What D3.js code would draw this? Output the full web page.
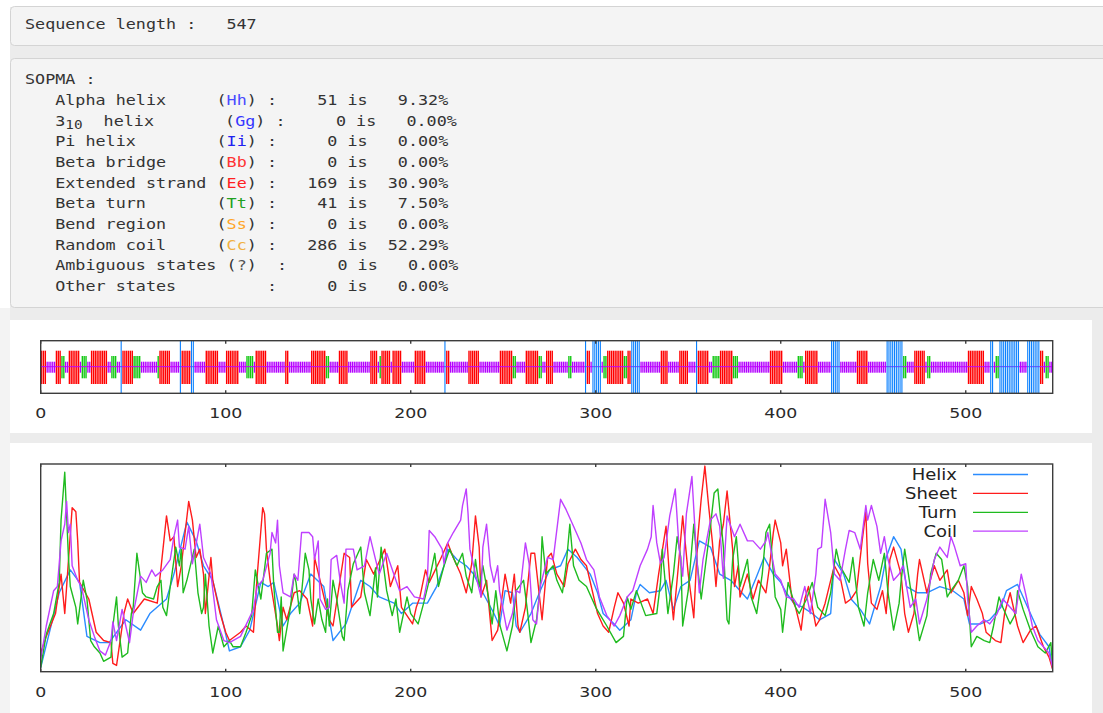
<!DOCTYPE html>
<html>
<head>
<meta charset="utf-8">
<script src="https://cdn.jsdelivr.net/npm/d3@7"></script>
<style>
html, body { margin: 0; padding: 0; background: #ececec; }
svg { display: block; }
</style>
</head>
<body>
<div id="chart"></div>
<script>
// ---- data ----
const seqLength = 547;

const sopmaRows = [
    {label: "Alpha helix", code: "Hh", count: 51, pct: "9.32%", color: "#4a4aff"},
    {label: "3", sub: "10", rest: "helix", code: "Gg", count: 0, pct: "0.00%", color: "#3636ff"},
    {label: "Pi helix", code: "Ii", count: 0, pct: "0.00%", color: "#2020f0"},
    {label: "Beta bridge", code: "Bb", count: 0, pct: "0.00%", color: "#ff3434"},
    {label: "Extended strand", code: "Ee", count: 169, pct: "30.90%", color: "#ff2020"},
    {label: "Beta turn", code: "Tt", count: 41, pct: "7.50%", color: "#20a020"},
    {label: "Bend region", code: "Ss", count: 0, pct: "0.00%", color: "#ffa526"},
    {label: "Random coil", code: "Cc", count: 286, pct: "52.29%", color: "#f0b040"},
    {label: "Ambiguous states", code: "?", count: 0, pct: "0.00%", color: "#555"},
    {label: "Other states", code: "", count: 0, pct: "0.00%", color: "#555"}
];

// predicted states, residue ranges (inclusive); everything else is random coil
const strandRuns = [[1,3],[9,11],[16,21],[28,36],[45,50],[65,70],[77,81],[90,96],[101,107],[117,122],
    [133,134],[147,154],[162,166],[179,182],[185,189],[191,195],[203,208],[220,221],[232,237],[249,255],
    [263,269],[274,277],[296,297],[307,315],[318,319],[336,339],[346,350],[356,361],[368,374],[395,401],
    [414,420],[442,447],[473,478],[502,510],[541,542]];
const turnRuns = [[12,13],[23,25],[39,41],[51,54],[64,64],[112,115],[155,156],[184,184],[256,257],[270,271],
    [286,287],[305,306],[316,317],[364,367],[375,377],[410,412],[467,468],[480,481],[517,518],[544,545]];
const helixRuns = [[44,44],[76,76],[82,83],[219,219],[295,295],[299,303],[320,324],[355,355],[428,432],
    [458,466],[514,515],[519,529],[534,540]];

const xTicks = [0, 100, 200, 300, 400, 500];

// score curves: [residue, score]
const helixScore = [[0,0.02],[10,0.38],[16,0.49],[21,0.43],[25,0.17],[32,0.14],[37,0.14],[46,0.25],[54,0.20],[59,0.28],
    [68,0.35],[72,0.47],[79,0.72],[84,0.63],[88,0.51],[93,0.44],[99,0.22],[102,0.10],[108,0.12],[113,0.20],
    [119,0.43],[123,0.41],[126,0.43],[131,0.22],[135,0.28],[140,0.33],[146,0.47],[153,0.41],[158,0.15],[165,0.23],
    [173,0.44],[178,0.41],[183,0.36],[191,0.33],[195,0.28],[201,0.33],[209,0.33],[214,0.41],[218,0.51],[220,0.59],
    [225,0.54],[230,0.51],[234,0.47],[239,0.38],[245,0.28],[248,0.22],[251,0.39],[255,0.38],[257,0.22],[259,0.19],
    [265,0.28],[270,0.39],[275,0.49],[281,0.51],[285,0.59],[290,0.55],[297,0.47],[301,0.38],[304,0.28],[310,0.23],
    [313,0.20],[319,0.25],[322,0.38],[324,0.42],[329,0.38],[335,0.39],[338,0.44],[342,0.30],[346,0.41],[351,0.44],
    [356,0.63],[362,0.60],[367,0.47],[373,0.44],[378,0.39],[382,0.35],[387,0.46],[391,0.55],[396,0.47],[400,0.43],
    [403,0.38],[407,0.33],[412,0.31],[417,0.28],[421,0.25],[427,0.28],[429,0.54],[434,0.47],[438,0.35],[443,0.30],
    [448,0.23],[454,0.41],[457,0.55],[461,0.65],[465,0.59],[468,0.41],[474,0.38],[479,0.38],[486,0.41],[493,0.39],
    [499,0.35],[502,0.23],[508,0.23],[513,0.25],[519,0.31],[522,0.39],[528,0.42],[531,0.36],[536,0.26],[540,0.18],
    [545,0.12],[547,0.01]];

const sheetScore = [[0,0.09],[3,0.17],[8,0.28],[11,0.47],[13,0.28],[17,0.79],[19,0.77],[20,0.63],[21,0.43],[26,0.35],
    [30,0.19],[34,0.15],[38,0.14],[39,0.04],[41,0.03],[45,0.28],[47,0.35],[50,0.28],[56,0.35],[63,0.33],
    [68,0.75],[70,0.63],[72,0.65],[74,0.41],[76,0.51],[80,0.82],[82,0.73],[84,0.55],[86,0.59],[88,0.47],
    [89,0.28],[92,0.55],[93,0.44],[97,0.28],[100,0.19],[102,0.15],[108,0.19],[111,0.22],[115,0.19],[117,0.46],
    [120,0.79],[121,0.76],[122,0.59],[124,0.44],[128,0.22],[129,0.15],[131,0.31],[133,0.25],[137,0.38],[140,0.39],
    [144,0.35],[147,0.22],[148,0.55],[151,0.44],[156,0.25],[158,0.22],[164,0.57],[167,0.55],[168,0.31],[173,0.36],
    [176,0.54],[180,0.47],[186,0.59],[189,0.41],[193,0.51],[195,0.31],[198,0.27],[201,0.23],[203,0.31],[205,0.36],
    [208,0.49],[210,0.43],[216,0.54],[220,0.62],[223,0.55],[227,0.47],[230,0.38],[233,0.52],[235,0.75],[237,0.60],
    [238,0.36],[241,0.44],[244,0.15],[247,0.20],[251,0.47],[254,0.33],[256,0.47],[258,0.22],[259,0.19],[262,0.31],
    [265,0.57],[267,0.57],[271,0.25],[274,0.55],[276,0.57],[279,0.47],[283,0.41],[285,0.52],[289,0.59],[292,0.54],
    [295,0.51],[301,0.28],[304,0.22],[307,0.19],[310,0.31],[312,0.38],[315,0.33],[318,0.22],[319,0.35],[323,0.33],
    [328,0.35],[331,0.28],[334,0.47],[338,0.70],[340,0.44],[342,0.25],[345,0.54],[347,0.75],[350,0.47],[353,0.26],
    [355,0.63],[357,0.83],[359,0.99],[361,0.80],[363,0.63],[365,0.41],[367,0.63],[369,0.71],[371,0.87],[374,0.59],
    [375,0.41],[377,0.51],[378,0.36],[382,0.47],[385,0.35],[388,0.44],[392,0.38],[394,0.51],[396,0.67],[397,0.73],
    [400,0.62],[401,0.51],[403,0.59],[406,0.35],[408,0.31],[411,0.20],[413,0.35],[415,0.41],[419,0.22],[421,0.25],
    [424,0.33],[427,0.44],[429,0.51],[432,0.46],[435,0.33],[438,0.35],[441,0.39],[444,0.63],[446,0.77],[447,0.52],
    [449,0.33],[452,0.30],[455,0.39],[457,0.28],[459,0.54],[461,0.60],[465,0.47],[467,0.28],[469,0.19],[472,0.28],
    [474,0.47],[475,0.54],[479,0.38],[483,0.51],[486,0.44],[490,0.49],[492,0.38],[496,0.44],[499,0.38],[501,0.27],
    [503,0.41],[506,0.35],[509,0.28],[511,0.19],[516,0.15],[519,0.14],[521,0.28],[524,0.38],[528,0.22],[531,0.14],
    [535,0.20],[538,0.22],[542,0.12],[545,0.07],[547,0.01]];

const turnScore = [[0,0.02],[3,0.18],[7,0.28],[10,0.43],[11,0.73],[13,0.96],[15,0.55],[16,0.41],[19,0.31],[20,0.23],
    [23,0.44],[25,0.35],[27,0.15],[29,0.12],[32,0.09],[34,0.05],[38,0.07],[39,0.22],[41,0.36],[42,0.22],
    [44,0.07],[47,0.09],[49,0.28],[50,0.31],[52,0.57],[55,0.38],[57,0.36],[61,0.35],[63,0.41],[65,0.44],
    [66,0.31],[68,0.27],[70,0.41],[73,0.60],[75,0.51],[76,0.59],[77,0.38],[79,0.44],[83,0.59],[85,0.38],
    [87,0.28],[88,0.31],[89,0.47],[91,0.22],[93,0.09],[96,0.22],[99,0.12],[102,0.15],[104,0.12],[108,0.12],
    [111,0.19],[114,0.27],[116,0.49],[119,0.35],[122,0.57],[125,0.59],[126,0.41],[128,0.19],[129,0.19],[130,0.36],
    [131,0.10],[135,0.31],[137,0.47],[138,0.43],[140,0.28],[143,0.57],[145,0.49],[146,0.35],[148,0.23],[150,0.35],
    [152,0.25],[154,0.19],[155,0.35],[156,0.22],[158,0.44],[160,0.35],[163,0.17],[164,0.15],[166,0.39],[169,0.52],
    [173,0.60],[175,0.38],[178,0.27],[181,0.50],[182,0.36],[184,0.60],[187,0.39],[190,0.27],[192,0.35],[194,0.19],
    [198,0.36],[200,0.28],[204,0.23],[207,0.33],[210,0.44],[213,0.57],[215,0.41],[218,0.51],[221,0.59],[225,0.51],
    [228,0.57],[230,0.46],[233,0.38],[235,0.54],[237,0.41],[239,0.51],[242,0.36],[244,0.23],[246,0.39],[248,0.23],
    [252,0.10],[255,0.22],[257,0.39],[261,0.44],[263,0.30],[265,0.14],[268,0.25],[270,0.41],[271,0.65],[273,0.47],
    [277,0.51],[279,0.44],[282,0.38],[284,0.51],[286,0.71],[288,0.51],[291,0.44],[295,0.41],[300,0.31],[302,0.28],
    [306,0.22],[311,0.14],[315,0.17],[317,0.36],[319,0.30],[322,0.39],[327,0.27],[333,0.28],[335,0.43],[336,0.59],
    [339,0.28],[342,0.47],[344,0.65],[346,0.55],[347,0.22],[350,0.39],[353,0.71],[355,0.51],[357,0.35],[362,0.70],
    [364,0.86],[366,0.88],[369,0.60],[371,0.25],[372,0.23],[374,0.54],[376,0.65],[378,0.41],[382,0.54],[384,0.36],
    [387,0.28],[390,0.47],[392,0.67],[394,0.71],[397,0.36],[400,0.30],[401,0.19],[404,0.43],[408,0.31],[410,0.28],
    [414,0.35],[417,0.43],[420,0.31],[424,0.27],[427,0.38],[430,0.59],[432,0.51],[437,0.43],[439,0.55],[442,0.31],
    [445,0.22],[447,0.38],[450,0.54],[453,0.44],[456,0.57],[458,0.38],[461,0.20],[464,0.33],[465,0.43],[467,0.59],
    [470,0.41],[473,0.27],[475,0.15],[479,0.27],[481,0.47],[484,0.57],[487,0.54],[490,0.36],[492,0.39],[496,0.44],
    [499,0.51],[501,0.41],[503,0.12],[506,0.17],[510,0.15],[513,0.14],[515,0.22],[518,0.36],[520,0.31],[524,0.23],
    [527,0.28],[528,0.39],[531,0.30],[535,0.20],[539,0.12],[543,0.09],[546,0.14],[547,0.02]];

const coilScore = [[0,0.06],[3,0.22],[7,0.39],[9,0.41],[11,0.63],[13,0.71],[14,0.82],[15,0.67],[16,0.71],[17,0.51],
    [20,0.44],[22,0.41],[26,0.25],[29,0.17],[32,0.10],[35,0.08],[38,0.15],[39,0.24],[41,0.15],[44,0.30],
    [46,0.22],[48,0.14],[50,0.28],[54,0.46],[57,0.43],[60,0.49],[62,0.46],[66,0.49],[70,0.54],[72,0.65],
    [74,0.73],[75,0.60],[78,0.59],[80,0.70],[82,0.52],[86,0.71],[88,0.55],[92,0.47],[95,0.25],[99,0.15],
    [102,0.14],[108,0.17],[115,0.30],[117,0.41],[120,0.44],[124,0.57],[125,0.67],[127,0.62],[128,0.73],[129,0.51],
    [131,0.38],[135,0.36],[137,0.47],[139,0.44],[141,0.67],[145,0.67],[147,0.65],[148,0.54],[150,0.63],[151,0.35],
    [154,0.30],[156,0.31],[157,0.54],[160,0.56],[162,0.43],[164,0.33],[165,0.59],[169,0.59],[171,0.49],[175,0.51],
    [178,0.65],[181,0.54],[183,0.47],[187,0.57],[192,0.44],[194,0.39],[198,0.41],[202,0.36],[207,0.35],[209,0.44],
    [210,0.68],[213,0.65],[217,0.59],[218,0.52],[220,0.62],[223,0.67],[227,0.73],[228,0.80],[230,0.88],[231,0.76],
    [232,0.59],[235,0.47],[238,0.36],[239,0.60],[241,0.71],[243,0.51],[245,0.43],[247,0.51],[248,0.39],[252,0.20],
    [255,0.28],[257,0.39],[259,0.38],[262,0.62],[264,0.52],[266,0.25],[268,0.23],[270,0.41],[274,0.55],[277,0.54],
    [281,0.83],[284,0.78],[288,0.70],[292,0.62],[295,0.54],[299,0.49],[302,0.36],[306,0.27],[310,0.22],[313,0.27],
    [317,0.36],[320,0.39],[324,0.51],[328,0.59],[330,0.65],[331,0.80],[333,0.62],[335,0.52],[337,0.55],[340,0.75],
    [343,0.88],[345,0.60],[347,0.46],[349,0.76],[352,0.94],[354,0.63],[356,0.38],[358,0.54],[362,0.73],[365,0.76],
    [367,0.70],[369,0.45],[371,0.75],[373,0.70],[375,0.65],[378,0.71],[382,0.63],[385,0.63],[389,0.59],[392,0.63],
    [393,0.67],[397,0.47],[400,0.44],[403,0.36],[407,0.35],[410,0.31],[413,0.41],[416,0.28],[419,0.47],[420,0.59],
    [422,0.60],[424,0.83],[427,0.67],[429,0.47],[432,0.44],[435,0.59],[437,0.68],[440,0.67],[443,0.59],[446,0.80],
    [447,0.73],[449,0.80],[452,0.70],[454,0.57],[456,0.65],[458,0.54],[461,0.44],[464,0.47],[466,0.51],[470,0.31],
    [473,0.35],[475,0.23],[479,0.35],[483,0.54],[486,0.60],[490,0.55],[492,0.65],[494,0.60],[497,0.51],[500,0.52],
    [501,0.35],[503,0.19],[506,0.22],[510,0.25],[513,0.23],[517,0.28],[520,0.35],[524,0.31],[527,0.28],[529,0.41],
    [530,0.47],[533,0.35],[536,0.22],[539,0.15],[545,0.09],[547,0.02]];

const scoreSeries = [
    {name: "Helix", values: helixScore, color: "#2b8cff"},
    {name: "Sheet", values: sheetScore, color: "#ff1c1c"},
    {name: "Turn", values: turnScore, color: "#1fbb1f"},
    {name: "Coil", values: coilScore, color: "#bf40ff"}
];

// ---- drawing ----
const W = 1103, H = 713;
const stretch = 1.2;   // the screenshot is slightly widened, text included
const pre = s => s.replace(/ /g, "\u00a0");

const svg = d3.select("#chart").append("svg")
    .attr("width", W)
    .attr("height", H);

// page, boxes and panels
svg.append("rect").attr("width", W).attr("height", H).attr("fill", "#ececec");
svg.append("rect").attr("width", W).attr("height", 7).attr("fill", "#fff");
svg.append("rect").attr("width", 10).attr("height", 308).attr("fill", "#fff");
svg.append("rect").attr("x", 0).attr("y", 308).attr("width", 10).attr("height", H - 308).attr("fill", "#f3f3f3");

[[6.5, 39], [58.5, 249]].forEach(([y0, h]) => {
    svg.append("rect")
        .attr("x", 10.5).attr("y", y0)
        .attr("width", 1120).attr("height", h)
        .attr("rx", 4)
        .attr("fill", "#f4f4f4")
        .attr("stroke", "#d4d4d4");
});
svg.append("rect").attr("x", 10).attr("y", 320).attr("width", 1082).attr("height", 113).attr("fill", "#fff");
svg.append("rect").attr("x", 10).attr("y", 443).attr("width", 1082).attr("height", 270).attr("fill", "#fff");

// ---- text boxes (monospace) ----
const cw = 14 * 0.602;
const mono = svg.append("g")
    .attr("transform", `translate(25,0) scale(${10.08 / cw},1)`)
    .attr("font-family", "'DejaVu Sans Mono', 'Liberation Mono', monospace")
    .attr("font-size", "14px")
    .attr("fill", "#333");

mono.append("text").attr("x", 0).attr("y", 29).text(pre("Sequence length :   " + seqLength));
mono.append("text").attr("x", 0).attr("y", 84).text(pre("SOPMA :"));

sopmaRows.forEach((row, i) => {
    const yb = 105 + i * 20.65;
    const t = mono.append("text").attr("x", 3 * cw).attr("y", yb);
    t.append("tspan").text(pre(row.label));
    if (row.sub) {
        t.append("tspan").attr("font-size", "12px").attr("dy", 3).text(row.sub);
        t.append("tspan").attr("dy", -3).attr("x", 7.8 * cw).text(row.rest);
    }

    let col = 19;
    if (row.sub) col = 19.85;
    if (row.code === "?") col = 20;
    const r = mono.append("text").attr("x", col * cw).attr("y", yb);
    if (row.code === "") {
        r.append("tspan").text(pre("     :"));
    } else {
        r.append("tspan").text("(");
        r.append("tspan").attr("fill", row.color).text(row.code);
        r.append("tspan").text(pre(row.code.length === 1 ? ")  :" : ") :"));
    }
    r.append("tspan").text(pre(String(row.count).padStart(6) + " is " + row.pct.padStart(7)));
});

// ---- shared x scale ----
const x = d3.scaleLinear().domain([0, seqLength]).range([40.7, 1052.7]);

function drawFrame(top, bottom, labelY) {
    const g = svg.append("g");
    g.append("rect")
        .attr("x", x(0)).attr("y", top)
        .attr("width", x(seqLength) - x(0)).attr("height", bottom - top)
        .attr("fill", "none")
        .attr("stroke", "#3c3c3c")
        .attr("stroke-width", 1.4);
    g.selectAll(".tick-b").data(xTicks).enter().append("line")
        .attr("x1", d => x(d)).attr("x2", d => x(d))
        .attr("y1", bottom).attr("y2", bottom - 3)
        .attr("stroke", "#3c3c3c").attr("stroke-width", 1.4);
    g.selectAll(".tick-t").data(xTicks).enter().append("line")
        .attr("x1", d => x(d)).attr("x2", d => x(d))
        .attr("y1", top).attr("y2", top + 3)
        .attr("stroke", "#3c3c3c").attr("stroke-width", 1.4);
    g.selectAll(".tick-label").data(xTicks).enter().append("text")
        .attr("transform", d => `translate(${x(d)},${labelY}) scale(${stretch + 0.04},1)`)
        .attr("text-anchor", "middle")
        .attr("font-family", "'DejaVu Sans', sans-serif")
        .attr("font-size", "14px")
        .attr("fill", "#2a2a2a")
        .text(d => d);
}

// ---- secondary structure track ----
const trackTop = 340.7, trackBottom = 393.3;
const stateBand = {
    h: [trackTop, trackBottom, "#0a80ff", 0.6],
    e: [350.7, 384, "#ff0000", 0.75],
    t: [356, 378.3, "#12c812", 0.75],
    c: [361.7, 372.7, "#b300ff", 0.7]
};

const states = d3.range(1, seqLength + 1).map(i => ({res: i, s: "c"}));
const applyRuns = (runs, s) => runs.forEach(([a, b]) => {
    for (let i = a; i <= b; i++) states[i - 1].s = s;
});
applyRuns(strandRuns, "e");
applyRuns(turnRuns, "t");
applyRuns(helixRuns, "h");

const step = x(1) - x(0);
const track = svg.append("g");
const drawBars = s => {
    const [y0, y1, col, frac] = stateBand[s];
    track.selectAll(".bar-" + s)
        .data(states.filter(d => d.s === s))
        .enter().append("rect")
        .attr("x", d => x(d.res - 1) + step * (1 - frac) / 2)
        .attr("y", y0)
        .attr("width", step * frac)
        .attr("height", y1 - y0)
        .attr("fill", col);
};
["c", "t", "e"].forEach(drawBars);
track.append("line")
    .attr("x1", x(0)).attr("x2", x(seqLength))
    .attr("y1", 366.7).attr("y2", 366.7)
    .attr("stroke", "#c000ff").attr("stroke-width", 1);
drawBars("h");
drawFrame(trackTop, trackBottom, 418);

// ---- score curves ----
const plotTop = 464, plotBottom = 671.7;
const y = d3.scaleLinear().domain([0, 1]).range([plotBottom, plotTop]);

svg.append("clipPath").attr("id", "plot-clip")
    .append("rect")
    .attr("x", x(0)).attr("y", plotTop)
    .attr("width", x(seqLength) - x(0)).attr("height", plotBottom - plotTop);

const line = d3.line()
    .x(d => x(d[0]))
    .y(d => y(d[1]));

svg.append("g").attr("clip-path", "url(#plot-clip)")
    .selectAll("path")
    .data(scoreSeries)
    .enter().append("path")
    .attr("d", d => line(d.values))
    .attr("fill", "none")
    .attr("stroke", d => d.color)
    .attr("stroke-width", 1.4)
    .attr("stroke-linejoin", "round");

drawFrame(plotTop, plotBottom, 697);

// legend
const legend = svg.append("g")
    .selectAll("g")
    .data(scoreSeries)
    .enter().append("g")
    .attr("transform", (d, i) => `translate(0,${480 + i * 18.9})`);
legend.append("text")
    .attr("transform", `translate(957,0) scale(${stretch},1)`)
    .attr("text-anchor", "end")
    .attr("font-family", "'DejaVu Sans', sans-serif")
    .attr("font-size", "15px")
    .attr("fill", "#222")
    .text(d => d.name);
legend.append("line")
    .attr("x1", 973).attr("x2", 1028)
    .attr("y1", -5.5).attr("y2", -5.5)
    .attr("stroke", d => d.color)
    .attr("stroke-width", 1.3);
</script>
</body>
</html>
